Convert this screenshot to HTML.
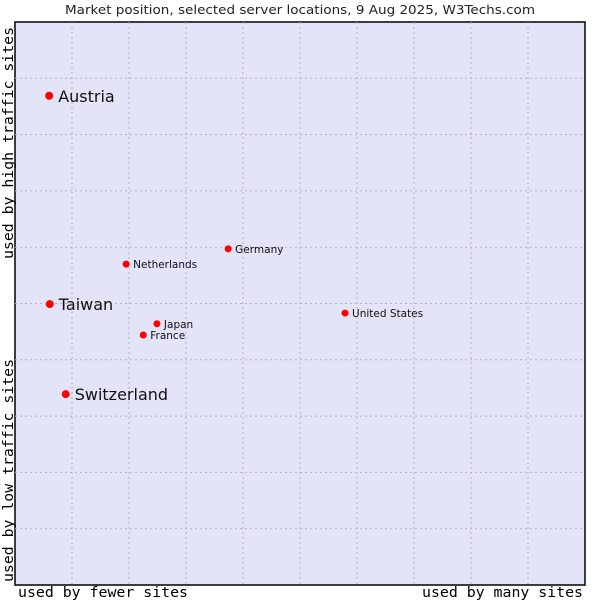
<!DOCTYPE html>
<html><head><meta charset="utf-8"><style>
body{margin:0;background:#fff;width:600px;height:600px;overflow:hidden}
svg{display:block}
</style></head><body>
<svg id="chart" width="600" height="600" xmlns="http://www.w3.org/2000/svg">
<text x="65" y="14" textLength="470" lengthAdjust="spacingAndGlyphs" font-family="DejaVu Sans, sans-serif" font-size="12.5" fill="#222">Market position, selected server locations, 9 Aug 2025, W3Techs.com</text>
<rect x="15" y="22" width="570" height="563" fill="#e4e4f8" stroke="#000" stroke-width="1.5"/>
<g id="grid"></g>
<text transform="translate(13,259) rotate(-90)" textLength="232" lengthAdjust="spacingAndGlyphs" font-family="DejaVu Sans Mono, monospace" font-size="14.5" fill="#000">used by high traffic sites</text>
<text transform="translate(13,582) rotate(-90)" textLength="223" lengthAdjust="spacingAndGlyphs" font-family="DejaVu Sans Mono, monospace" font-size="14.5" fill="#000">used by low traffic sites</text>
<text x="18" y="597" textLength="170" lengthAdjust="spacingAndGlyphs" font-family="DejaVu Sans Mono, monospace" font-size="14.5" fill="#000">used by fewer sites</text>
<text x="422" y="597" textLength="161" lengthAdjust="spacingAndGlyphs" font-family="DejaVu Sans Mono, monospace" font-size="14.5" fill="#000">used by many sites</text>
<g id="points"></g>
</svg>
<script>
const names = ["Austria","Taiwan","Switzerland","Netherlands","Germany","Japan","France","United States"];
const xValues = [6.0,6.1,8.9,19.5,37.4,24.9,22.5,57.9];
const yValues = [86.9,49.9,33.9,57.0,59.7,46.4,44.4,48.3];
const bigLabel = [true,true,true,false,false,false,false,false];
const NS="http://www.w3.org/2000/svg";
const L=15,R=585,T=22,B=585;
function sx(v){return L+(R-L)*v/100;}
function sy(v){return B-(B-T)*v/100;}
const grid=document.getElementById('grid');
for(let i=1;i<10;i++){
  const v=document.createElementNS(NS,'line');
  v.setAttribute('x1',sx(i*10));v.setAttribute('x2',sx(i*10));v.setAttribute('y1',T);v.setAttribute('y2',B);
  v.setAttribute('stroke','#b4b4b4');v.setAttribute('stroke-dasharray','2,3');
  
  
  grid.appendChild(v);
  const h=document.createElementNS(NS,'line');
  h.setAttribute('y1',sy(i*10));h.setAttribute('y2',sy(i*10));h.setAttribute('x1',L);h.setAttribute('x2',R);
  h.setAttribute('stroke','#b4b4b4');h.setAttribute('stroke-dasharray','2,3');
  
  
  grid.appendChild(h);
}
const pts=document.getElementById('points');
names.forEach((n,i)=>{
  const x=sx(xValues[i]),y=sy(yValues[i]);
  const c=document.createElementNS(NS,'circle');
  c.setAttribute('cx',x);c.setAttribute('cy',y);c.setAttribute('r',bigLabel[i]?4:3.5);c.setAttribute('fill','#f00');
  
  
  pts.appendChild(c);
  const t=document.createElementNS(NS,'text');
  t.setAttribute('x',x+(bigLabel[i]?9:7));t.setAttribute('y',y+(bigLabel[i]?6:4));
  t.setAttribute('font-family','DejaVu Sans, sans-serif');t.setAttribute('font-size',bigLabel[i]?16:10.5);t.setAttribute('fill','#111');
  t.textContent=n;
  
  
  pts.appendChild(t);
});
</script>
</body></html>
